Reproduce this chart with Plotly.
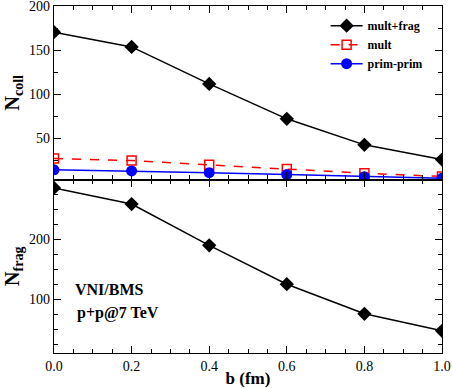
import plotly.graph_objects as go
from plotly.subplots import make_subplots

b = [0.0, 0.2, 0.4, 0.6, 0.8, 1.0]
ncoll_multfrag = [170.5, 153.8, 111.7, 72.0, 42.4, 25.7]
ncoll_mult = [26.8, 24.5, 19.7, 15.0, 10.0, 6.5]
ncoll_primprim = [14.0, 12.8, 10.8, 8.7, 6.2, 4.3]
nfrag_multfrag = [286, 259, 190, 125, 75.5, 47]

serif = "Liberation Serif"

fig = make_subplots(rows=2, cols=1, shared_xaxes=True, vertical_spacing=0)

fig.add_trace(go.Scatter(x=b, y=ncoll_multfrag, mode="lines+markers", name="<b>mult+frag</b>",
                         line=dict(color="black", width=1.5),
                         marker=dict(symbol="diamond", size=11, color="black")), row=1, col=1)
fig.add_trace(go.Scatter(x=b, y=ncoll_mult, mode="lines+markers", name="<b>mult</b>",
                         line=dict(color="red", width=1.5, dash="dash"),
                         marker=dict(symbol="square-open", size=9, color="red", line=dict(width=1.5))), row=1, col=1)
fig.add_trace(go.Scatter(x=b, y=ncoll_primprim, mode="lines+markers", name="<b>prim-prim</b>",
                         line=dict(color="blue", width=1.5),
                         marker=dict(symbol="circle", size=11, color="blue")), row=1, col=1)
fig.add_trace(go.Scatter(x=b, y=nfrag_multfrag, mode="lines+markers", showlegend=False,
                         line=dict(color="black", width=1.5),
                         marker=dict(symbol="diamond", size=11, color="black")), row=2, col=1)

axis_style = dict(showline=True, linecolor="black", linewidth=1.2, mirror="ticks",
                  ticks="inside", ticklen=7, tickcolor="black", tickwidth=1,
                  showgrid=False, zeroline=False, automargin=False, ticklabeloverflow="allow",
                  tickfont=dict(family=serif, size=14, color="black"))

fig.update_xaxes(**axis_style, range=[0, 1.0], dtick=0.2, tickformat=".1f",
                 minor=dict(ticks="inside", ticklen=4, dtick=0.05, tickcolor="black", showgrid=False))
fig.update_xaxes(showticklabels=False, row=1, col=1)
fig.update_xaxes(title=dict(text="<b>b (fm)</b>", font=dict(family=serif, size=17, color="black"), standoff=0),
                 row=2, col=1)

fig.update_yaxes(**axis_style)
fig.update_yaxes(range=[3, 200.3], tickvals=[50, 100, 150, 200],
                 minor=dict(ticks="inside", ticklen=4, tickvals=[25, 75, 125, 175], tickcolor="black"),
                 title=dict(text="<b>N<sub>coll</sub></b>", font=dict(family=serif, size=20, color="black"), standoff=4),
                 row=1, col=1)
fig.update_yaxes(range=[10, 300], tickvals=[100, 200],
                 minor=dict(ticks="inside", ticklen=4, tickvals=[25, 50, 75, 125, 150, 175, 225, 250, 275], tickcolor="black"),
                 title=dict(text="<b>N<sub>frag</sub></b>", font=dict(family=serif, size=20, color="black"), standoff=4),
                 row=2, col=1)

fig.add_annotation(x=0.05, y=116, xref="x2", yref="y2", text="<b>VNI/BMS</b>", showarrow=False,
                   xanchor="left", font=dict(family=serif, size=16, color="black"))
fig.add_annotation(x=0.055, y=77, xref="x2", yref="y2", text="<b>p+p@7 TeV</b>", showarrow=False,
                   xanchor="left", font=dict(family=serif, size=16, color="black"))

fig.update_layout(
    width=452, height=388,
    margin=dict(l=54, r=10, t=6, b=35),
    plot_bgcolor="white", paper_bgcolor="white",
    font=dict(family=serif, color="black"),
    legend=dict(x=0.70, y=0.985, xanchor="left", yanchor="top", bgcolor="rgba(0,0,0,0)",
                font=dict(family=serif, size=12, color="black"), tracegroupgap=0, itemwidth=32),
)

# page body has a default 8px margin; drop it so the figure sits at the corner
fig.write_html("out.html", config={"displayModeBar": False},
               post_script="document.body.style.margin='0';")
